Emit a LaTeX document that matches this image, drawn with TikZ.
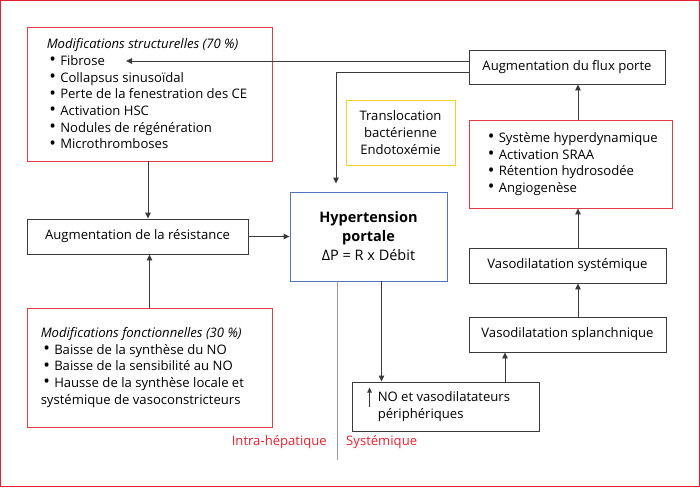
\documentclass[tikz,border=0pt]{standalone}
\usepackage{fontspec}
\setmainfont{Open Sans}
\usetikzlibrary{arrows.meta}
\definecolor{lin}{HTML}{3A3A3A}
\definecolor{redb}{HTML}{E23A46}
\definecolor{blueb}{HTML}{5575C4}
\definecolor{yelb}{HTML}{F5D22A}
\definecolor{frame}{HTML}{E4202F}
\definecolor{redt}{HTML}{E4202F}
\newcommand\mybul{\makebox[11pt][l]{\raisebox{-0.3pt}{\scalebox{1.35}{•}}}}
\begin{document}
\begin{tikzpicture}[x=1pt,y=-1pt,
  every node/.style={font=\fontsize{13.1}{16.7}\selectfont, text=black},
  box/.style={draw=lin, line width=0.9pt, inner sep=0pt, align=center},
  redbox/.style={box, draw=redb},
  txt/.style={inner sep=0pt, align=left, anchor=west},
  arr/.style={draw=lin, line width=0.9pt, -{Triangle[length=6pt,width=5.5pt]}},
  lbl/.style={text=redt, inner sep=0pt}
]
\useasboundingbox (0,0) rectangle (700,487);
\draw[frame, line width=1.2pt] (0.6,0.6) rectangle (699.4,486.4);

\node[redbox, minimum width=245pt, minimum height=134pt] (struct) at (149.5,94) {};
\node[txt] (structtxt) at ([xshift=20pt]struct.west)
  {\textit{Modifications structurelles (70 \%)}\\
   \hspace*{2.5pt}\mybul Fibrose\\
   \hspace*{2.5pt}\mybul Collapsus sinusoïdal\\
   \hspace*{2.5pt}\mybul Perte de la fenestration des CE\\
   \hspace*{2.5pt}\mybul Activation HSC\\
   \hspace*{2.5pt}\mybul Nodules de régénération\\
   \hspace*{2.5pt}\mybul Microthromboses};

\node[box, minimum width=221pt, minimum height=35pt] (resist) at (137.5,236.5) {Augmentation de la résistance};

\node[redbox, minimum width=245pt, minimum height=119pt] (func) at (149.5,367.5) {};
\node[txt] (functxt) at ([xshift=14pt]func.west)
  {\textit{Modifications fonctionnelles (30 \%)}\\
   \hspace*{2.5pt}\mybul Baisse de la synthèse du NO\\
   \hspace*{2.5pt}\mybul Baisse de la sensibilité au NO\\
   \hspace*{2.5pt}\mybul Hausse de la synthèse locale et\\
   systémique de vasoconstricteurs};

\node[box, draw=blueb, minimum width=157pt, minimum height=89pt, font=\fontsize{14.5}{19}\selectfont] (hyper) at (368.5,236.5)
  {\textbf{Hypertension}\\\textbf{portale}\\ΔP = R x Débit};

\node[box, draw=yelb, minimum width=109pt, minimum height=65pt] (transl) at (400.5,132.5)
  {Translocation\\bactérienne\\Endotoxémie};

\node[box, minimum width=196pt, minimum height=34pt] (flux) at (567,67) {Augmentation du flux porte};

\node[redbox, minimum width=203pt, minimum height=88pt] (hyperdyn) at (570.5,164) {};
\node[txt] (hyperdyntxt) at ([xshift=19pt]hyperdyn.west)
  {\mybul Système hyperdynamique\\
   \mybul Activation SRAA\\
   \mybul Rétention hydrosodée\\
   \mybul Angiogenèse};

\node[box, minimum width=197pt, minimum height=35pt] (syst) at (567.5,265.5) {Vasodilatation systémique};
\node[box, minimum width=197pt, minimum height=35pt] (splan) at (567.5,334.5) {Vasodilatation splanchnique};

\node[box, minimum width=187pt, minimum height=49pt] (no) at (445.5,406.5) {};
\node[txt] (notxt) at ([xshift=26pt]no.west) {NO et vasodilatateurs\\périphériques};
\draw[draw=lin, line width=1pt, -{Triangle[length=5pt,width=4.5pt]}] ([xshift=18pt,yshift=-0.5pt]no.west) -- ([xshift=18pt,yshift=19pt]no.west);

% divider
\coordinate (divend) at (337,460);
\draw[draw=gray!80, line width=0.8pt] (hyper.south -| divend) -- (divend);
\node[lbl, anchor=east] (intra) at (327,442) {Intra-hépatique};
\node[lbl, anchor=west] (systl) at (346,442) {Systémique};

% connectors
\coordinate (fibr) at (126,61);
\coordinate (hnx) at (381.5,0);
\draw[arr] ([yshift=6pt]flux.west) -- (fibr);
\draw[arr, shorten >=8pt] ([yshift=-5pt]flux.west) -| ([xshift=-32.5pt]hyper.north);
\draw[arr] (struct.south -| 148,0) -- (resist.north -| 148,0);
\draw[arr] (resist.east) -- (hyper.west |- resist.east);
\draw[arr] (func.north) -- (resist.south -| func.north);
\draw[arr] (hyper.south -| hnx) -- (no.north -| hnx);
\draw[arr] (no.north -| 505,0) -- (splan.south -| 505,0);
\draw[arr] (splan.north -| 578,0) -- (syst.south -| 578,0);
\draw[arr] (syst.north -| 578,0) -- (hyperdyn.south -| 578,0);
\draw[arr] (hyperdyn.north -| 578,0) -- (flux.south -| 578,0);
\end{tikzpicture}
\end{document}
